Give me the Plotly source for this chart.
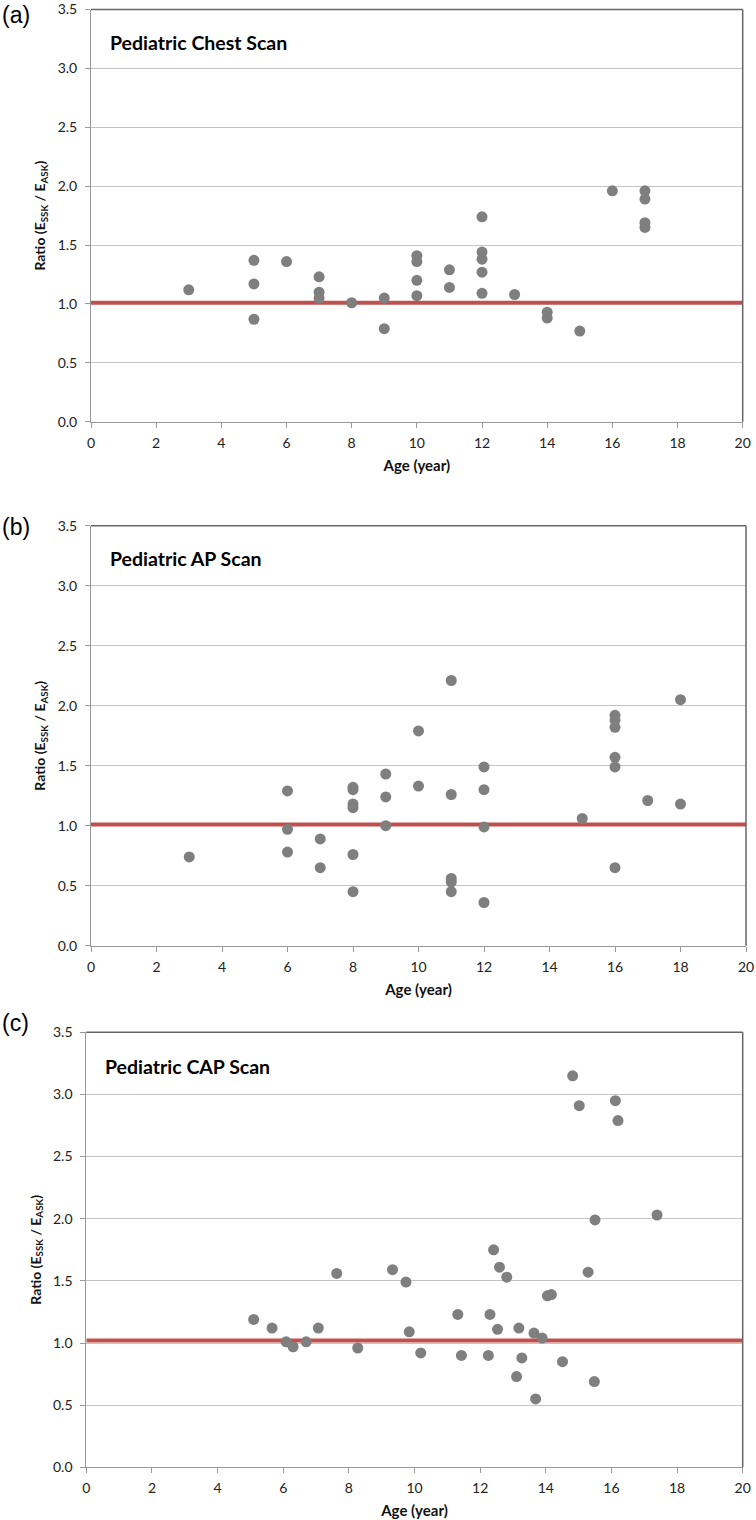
import plotly.graph_objects as go

# ---------------- data ----------------
chest_age = [3, 5, 5, 5, 6, 7, 7, 7, 8, 9, 9, 10, 10, 10, 10, 11, 11,
             12, 12, 12, 12, 12, 13, 14, 14, 15, 16, 17, 17, 17, 17]
chest_ratio = [1.12, 1.37, 1.17, 0.87, 1.36, 1.23, 1.10, 1.05, 1.01, 1.05, 0.79,
               1.41, 1.36, 1.20, 1.07, 1.29, 1.14,
               1.74, 1.44, 1.38, 1.27, 1.09, 1.08, 0.93, 0.88, 0.77, 1.96,
               1.96, 1.89, 1.69, 1.65]

ap_age = [3, 6, 6, 6, 7, 7, 8, 8, 8, 8, 8, 8, 9, 9, 9, 10, 10,
          11, 11, 11, 11, 11, 12, 12, 12, 12, 15, 16, 16, 16, 16, 16, 16,
          17, 18, 18]
ap_ratio = [0.74, 1.29, 0.97, 0.78, 0.89, 0.65, 1.32, 1.30, 1.18, 1.15, 0.76, 0.45,
            1.43, 1.24, 1.00, 1.79, 1.33,
            2.21, 1.26, 0.56, 0.53, 0.45, 1.49, 1.30, 0.99, 0.36, 1.06,
            1.92, 1.88, 1.82, 1.57, 1.49, 0.65, 1.21, 2.05, 1.18]

cap_age = [5.10, 5.66, 6.09, 6.30, 6.70, 7.07, 7.63, 8.27, 9.33, 9.74, 9.84, 10.19,
           11.32, 11.43, 12.30, 12.25, 12.41, 12.59, 12.53, 12.81, 13.11, 13.18,
           13.27, 13.64, 13.69, 13.89, 14.05, 14.17, 14.51, 14.82, 15.02, 15.29,
           15.50, 15.48, 16.12, 16.20, 17.39]
cap_ratio = [1.19, 1.12, 1.01, 0.97, 1.01, 1.12, 1.56, 0.96, 1.59, 1.49, 1.09, 0.92,
             1.23, 0.90, 1.23, 0.90, 1.75, 1.61, 1.11, 1.53, 0.73, 1.12,
             0.88, 1.08, 0.55, 1.04, 1.38, 1.39, 0.85, 3.15, 2.91, 1.57,
             1.99, 0.69, 2.95, 2.79, 2.03]

ref_levels = [1.01, 1.01, 1.02]
age_range = [0, 20]
ratio_range = [0, 3.5]
titles = ["Pediatric Chest Scan", "Pediatric AP Scan", "Pediatric CAP Scan"]
panel_tags = ["(a)", "(b)", "(c)"]
x_ticks = [0, 2, 4, 6, 8, 10, 12, 14, 16, 18, 20]
y_ticks = [0.0, 0.5, 1.0, 1.5, 2.0, 2.5, 3.0, 3.5]

# ---------------- layout geometry ----------------
W, H = 756, 1520
# pixel boxes (left, right, top, bottom)
boxes = [(91, 742.7, 9.5, 421.7), (91, 746, 525.7, 945.7), (86.3, 742.7, 1032.3, 1467.3)]
tag_y = [15, 527, 1023]

series = [(chest_age, chest_ratio), (ap_age, ap_ratio), (cap_age, cap_ratio)]

fig = go.Figure()
FAM = "Lato, Open Sans, sans-serif"
TICKFONT = dict(family=FAM, size=14, color="#222")

annotations = []
shapes = []
for i, ((xs, ys), (l, r, t, b)) in enumerate(zip(series, boxes)):
    n = "" if i == 0 else str(i + 1)
    xa, ya = "x" + n, "y" + n
    fig.add_trace(go.Scatter(x=age_range, y=[ref_levels[i]] * 2, mode="lines",
                             line=dict(color="#c0504d", width=4),
                             xaxis=xa, yaxis=ya, showlegend=False, hoverinfo="skip",
                             cliponaxis=False))
    fig.add_trace(go.Scatter(x=xs, y=ys, mode="markers",
                             marker=dict(color="#7f7f7f", size=11, line=dict(width=0)),
                             xaxis=xa, yaxis=ya, showlegend=False, cliponaxis=False))
    xdom = [l / W, r / W]
    ydom = [1 - b / H, 1 - t / H]
    fig.layout["xaxis" + n] = dict(
        domain=xdom, range=age_range, anchor=ya, tickvals=x_ticks,
        ticks="outside", ticklen=5, tickcolor="#999", showline=True, linecolor="#999",
        linewidth=1, showgrid=False, zeroline=False, tickfont=TICKFONT,
        ticklabelstandoff=3, ticklabeloverflow="allow",
        title=dict(text="<b>Age (year)</b>", font=dict(family=FAM, size=15, color="#111"),
                   standoff=10),
        automargin=False, fixedrange=True)
    fig.layout["yaxis" + n] = dict(
        domain=ydom, range=ratio_range, anchor=xa, tickvals=y_ticks,
        tickformat=".1f", ticks="outside", ticklen=5, tickcolor="#999",
        showline=True, linecolor="#999", linewidth=1, showgrid=True,
        gridcolor="#c4c4c4", gridwidth=1, zeroline=False, tickfont=TICKFONT,
        ticklabelstandoff=5, ticklabeloverflow="allow",
        title=dict(text="<b>Ratio (E<sub>SSK</sub> / E<sub>ASK</sub>)</b>",
                   font=dict(family=FAM, size=14, color="#111"), standoff=8),
        automargin=False, fixedrange=True)
    # darker top/right plot border
    shapes.append(dict(type="line", xref=xa + " domain", yref=ya + " domain",
                       x0=0, x1=1, y0=1, y1=1, line=dict(color="#666", width=1.5)))
    shapes.append(dict(type="line", xref=xa + " domain", yref=ya + " domain",
                       x0=1, x1=1, y0=0, y1=1, line=dict(color="#666", width=1.5)))
    annotations.append(dict(text="<b>" + titles[i] + "</b>", xref=xa + " domain",
                            yref=ya + " domain", x=0.026, y=0.921, xanchor="left",
                            yanchor="middle", showarrow=False,
                            font=dict(family=FAM, size=19.5, color="#000")))
    annotations.append(dict(text=panel_tags[i], xref="paper", yref="paper",
                            x=0, y=1 - tag_y[i] / H, xanchor="left", yanchor="middle",
                            showarrow=False,
                            font=dict(family="Liberation Sans, Arial, sans-serif",
                                      size=23, color="#000")))

fig.update_layout(width=W, height=H, margin=dict(l=0, r=0, t=0, b=0),
                  paper_bgcolor="white", plot_bgcolor="white",
                  annotations=annotations, shapes=shapes, template="none")
fig.write_html("out.html", config={"displayModeBar": False},
               post_script="document.body.style.margin='0px';"
                           "document.body.style.overflow='hidden';")
